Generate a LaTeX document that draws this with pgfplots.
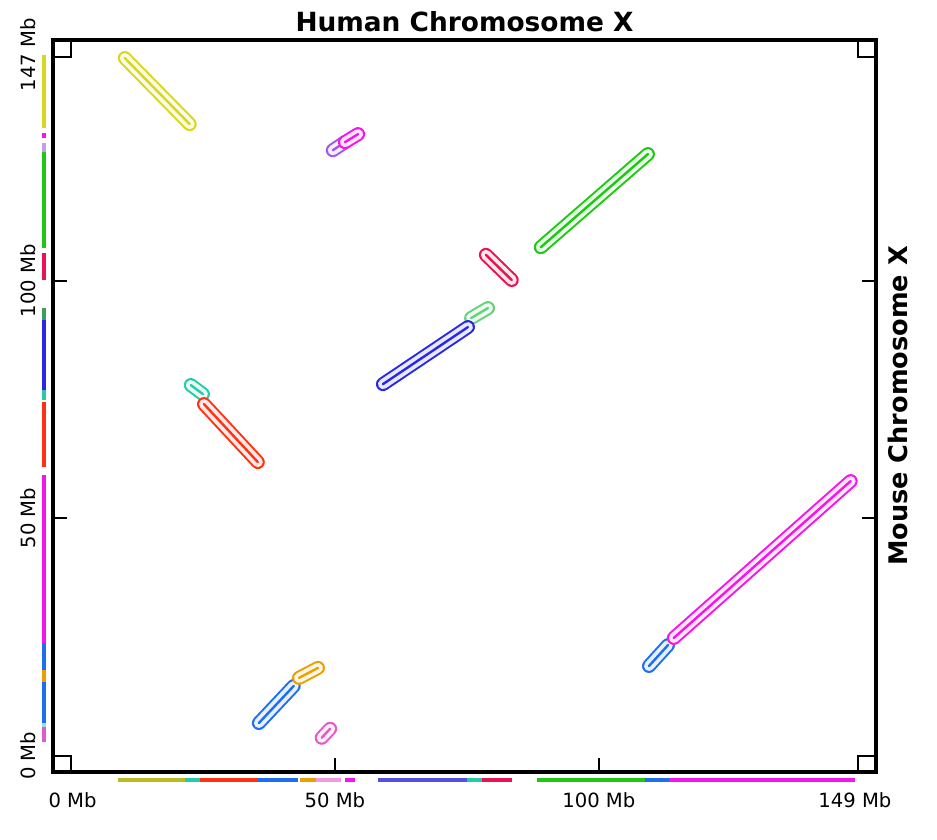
\documentclass[border=0pt]{standalone}
\usepackage{pgfplots}
\pgfplotsset{compat=1.18}
\usepackage{fontspec}
\setmainfont{DejaVu Sans}

\definecolor{cYel}{RGB}{215,215,30}
\definecolor{cOli}{RGB}{190,185,30}
\definecolor{cMag}{RGB}{245,20,235}
\definecolor{cPur}{RGB}{160,90,230}
\definecolor{cGrn}{RGB}{30,200,20}
\definecolor{cCrm}{RGB}{230,20,80}
\definecolor{cLgr}{RGB}{100,210,120}
\definecolor{cDgr}{RGB}{60,160,90}
\definecolor{cBlu}{RGB}{40,40,230}
\definecolor{cLav}{RGB}{80,80,230}
\definecolor{cTea}{RGB}{40,200,170}
\definecolor{cRed}{RGB}{255,50,20}
\definecolor{cBl2}{RGB}{30,110,240}
\definecolor{cOra}{RGB}{235,160,0}
\definecolor{cPnk}{RGB}{225,90,200}

\newcommand{\seg}[3]{%
  \addplot[draw=#1, line width=7pt, line cap=round] coordinates {#2 #3};
  \addplot[draw=#1!10, line width=5pt, line cap=round] coordinates {#2 #3};
  \addplot[draw=#1, line width=1.2pt, line cap=round] coordinates {#2 #3};
}
\newcommand{\hb}[3]{\addplot[draw=#1, line width=2.2pt] coordinates {(#2,-5.1) (#3,-5.1)};}
\newcommand{\vb}[3]{\addplot[draw=#1, line width=2.2pt] coordinates {(-5.1,#2) (-5.1,#3)};}

\begin{document}
\begin{tikzpicture}
\begin{axis}[
  scale only axis, width=411.5pt, height=366pt,
  xmin=-3.4, xmax=152.5, ymin=-3.4, ymax=150.6,
  clip=false,
  axis line style={line width=2.4pt},
  xtick={50,100}, xticklabels={50 Mb,100 Mb},
  ytick={50,100}, yticklabels={50 Mb,100 Mb},
  extra x ticks={0.3,148.5}, extra x tick labels={0 Mb,149 Mb},
  extra y ticks={0,147.5}, extra y tick labels={0 Mb,147 Mb},
  extra tick style={major tick length=0pt},
  xtick pos=left, ytick pos=both, xticklabel pos=left, yticklabel pos=left,
  tick align=inside, major tick length=7pt,
  tick style={black, line width=1pt},
  /pgf/number format/assume math mode=true,
  ticklabel style={font=\fontsize{9.8}{11}\selectfont},
  xticklabel style={anchor=north, inner ysep=10pt},
  yticklabel style={rotate=90, anchor=south, inner ysep=8.5pt},
  title={Human Chromosome X},
  title style={font=\fontsize{13.2}{15}\selectfont\bfseries, at={(0.5,1)}, anchor=base, yshift=-2pt, inner sep=0pt},
]
% corner squares
\addplot[black, line width=1pt] coordinates {(-3.4,0) (0,0) (0,-3.4)};
\addplot[black, line width=1pt] coordinates {(-3.4,147) (0,147) (0,150.6)};
\addplot[black, line width=1pt] coordinates {(152.5,147) (149,147) (149,150.6)};
\addplot[black, line width=1pt] coordinates {(152.5,0) (149,0) (149,-3.4)};

% human (bottom) bar
\hb{cOli}{8.9}{21.6}
\hb{cTea}{21.6}{24.4}
\hb{cRed}{24.4}{35.4}
\hb{cBl2}{35.4}{43.0}
\hb{cOra}{43.4}{46.4}
\hb{cPnk!60}{46.4}{51.1}
\hb{cMag}{51.9}{53.8}
\hb{cLav}{58.1}{75.0}
\hb{cTea}{75.0}{77.8}
\hb{cCrm}{77.8}{83.5}
\hb{cGrn}{88.3}{108.7}
\hb{cBl2}{108.7}{113.3}
\hb{cMag}{113.3}{148.5}

% mouse (left) bar
\vb{cYel}{132.1}{147.4}
\vb{cMag}{130.0}{131.0}
\vb{cPur!60}{127.0}{128.9}
\vb{cGrn}{106.8}{127.0}
\vb{cCrm}{100.1}{105.8}
\vb{cDgr}{91.7}{94.2}
\vb{cBlu}{77.0}{91.7}
\vb{cTea}{74.9}{77.0}
\vb{cRed}{60.8}{74.4}
\vb{cMag}{23.8}{59.1}
\vb{cBl2}{18.1}{23.8}
\vb{cOra}{15.6}{18.1}
\vb{cBl2}{6.9}{15.6}
\vb{cTea!50}{6.1}{6.9}
\vb{cPnk}{2.9}{6.1}

% synteny blocks
\seg{cYel}{(10.2,146.8)}{(22.5,132.9)}
\seg{cPur}{(49.6,127.4)}{(51.9,129.1)}
\seg{cMag}{(51.9,129.1)}{(54.4,130.8)}
\seg{cGrn}{(89.0,107.0)}{(109.3,126.6)}
\seg{cCrm}{(78.6,105.4)}{(83.5,100.1)}
\seg{cLgr}{(75.8,92.1)}{(79.0,94.2)}
\seg{cBlu}{(59.1,78.2)}{(75.2,90.2)}
\seg{cTea}{(22.7,78.0)}{(25.0,76.1)}
\seg{cRed}{(25.2,74.0)}{(35.4,61.8)}
\seg{cBl2}{(35.6,6.9)}{(42.2,14.7)}
\seg{cOra}{(43.2,16.4)}{(46.8,18.5)}
\seg{cPnk}{(47.5,3.8)}{(49.1,5.7)}
\seg{cBl2}{(109.5,18.9)}{(113.1,23.3)}
\seg{cMag}{(114.2,24.8)}{(147.7,57.8)}
\end{axis}
\node[rotate=90, anchor=north, inner sep=0pt, font=\fontsize{12.8}{14}\selectfont\bfseries] at ([xshift=6pt]current axis.east) {Mouse Chromosome X};
\path ([xshift=-26.5pt,yshift=-34pt]current axis.south west) rectangle ([xshift=30.5pt,yshift=20pt]current axis.north east);
\end{tikzpicture}
\end{document}
